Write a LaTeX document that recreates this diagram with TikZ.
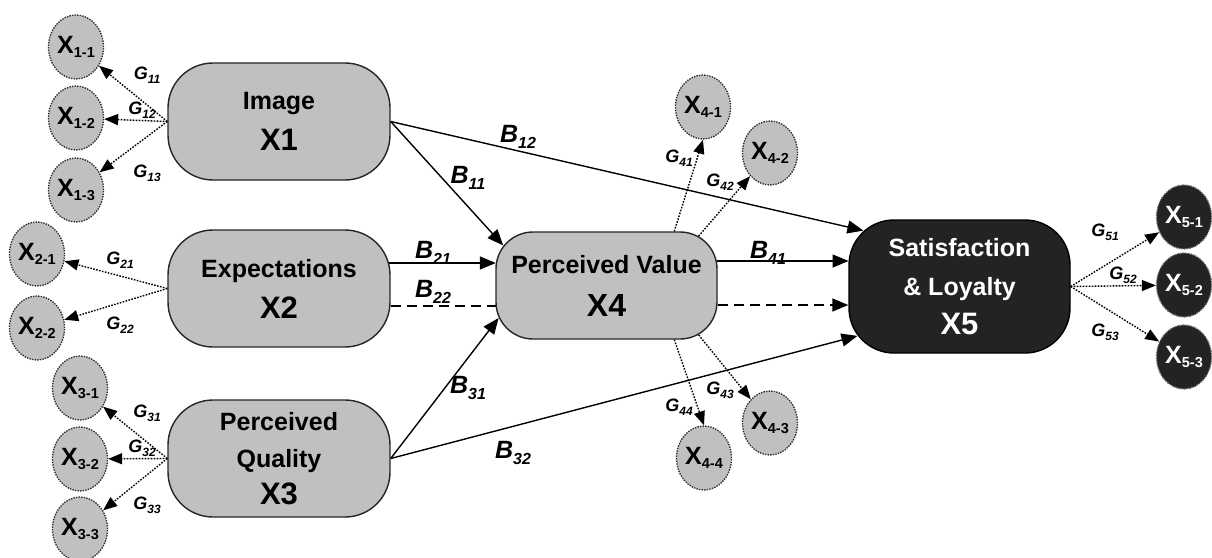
\documentclass[tikz,border=0pt]{standalone}
\usepackage{fontspec}
\setmainfont{Liberation Sans}
\usetikzlibrary{arrows.meta,shapes.geometric}
\definecolor{boxgray}{RGB}{192,192,192}
\definecolor{darkfill}{RGB}{35,35,35}
\newcommand{\indx}[1]{X\raisebox{-4pt}{\fontsize{14.5}{14.5}\selectfont #1}}
\newcommand{\glab}[1]{\textit{G}\raisebox{-4pt}{\fontsize{12}{12}\selectfont\itshape #1}}
\newcommand{\blab}[1]{\textit{B}\raisebox{-5.5pt}{\fontsize{16}{16}\selectfont\itshape #1}}
\begin{document}
\begin{tikzpicture}[x=1pt,y=-1pt,
  box/.style={draw=black!85, line width=1.4pt, fill=boxgray, rounded corners=45pt,
    minimum width=222pt, minimum height=117pt, align=center, inner sep=0pt,
    font=\fontsize{25}{41}\selectfont\bfseries},
  indicator/.style={ellipse, draw=black!85, dash pattern=on 1.4pt off 1.2pt, line width=1.3pt, fill=boxgray,
    minimum width=55pt, minimum height=64pt, inner sep=0pt,
    font=\fontsize{25}{25}\selectfont\bfseries},
  darkind/.style={indicator, fill=darkfill, draw=black!60, text=white},
  ld/.style={dash pattern=on 1.6pt off 1.4pt, line width=1.4pt, -{Triangle[length=14pt,width=11pt]}},
  mainarrow/.style={line width=1.4pt, -{Triangle[length=16pt,width=13pt]}},
  dashline/.style={line width=1.4pt, dash pattern=on 10pt off 6pt},
  glabel/.style={inner sep=0pt, font=\fontsize{18}{18}\selectfont\bfseries},
  blabel/.style={inner sep=0pt, font=\fontsize{25}{25}\selectfont\bfseries}
]
\useasboundingbox (0,0) rectangle (1212,557);

% main constructs
\node[box] (X1) at (279,121.5) {Image\\{\fontsize{31}{41}\selectfont X1}};
\node[box] (X2) at (279,288.5) {Expectations\\{\fontsize{31}{41}\selectfont X2}};
\node[box, font=\fontsize{25}{37}\selectfont\bfseries] (X3) at (279,458.5) {Perceived\\Quality\\{\fontsize{31}{37}\selectfont X3}};
\node[box, rounded corners=37pt, minimum width=221pt, minimum height=107pt,
  font=\fontsize{25}{43}\selectfont\bfseries] (X4) at (606.5,285.5) {Perceived Value\\{\fontsize{32}{43}\selectfont X4}};
\node[box, fill=darkfill, draw=black, text=white, minimum width=221pt, minimum height=133pt,
  font=\fontsize{25}{39}\selectfont\bfseries] (X5) at (959.5,286.5) {Satisfaction\\\&~Loyalty\\{\fontsize{31}{39}\selectfont X5}};

% indicators
\node[indicator] (X11) at (76,47) {\indx{1-1}};
\node[indicator] (X12) at (76,118) {\indx{1-2}};
\node[indicator] (X13) at (76,190) {\indx{1-3}};
\node[indicator] (X21) at (37,254) {\indx{2-1}};
\node[indicator] (X22) at (37,328) {\indx{2-2}};
\node[indicator] (X31) at (80,388) {\indx{3-1}};
\node[indicator] (X32) at (80,459) {\indx{3-2}};
\node[indicator] (X33) at (80,529) {\indx{3-3}};
\node[indicator] (X41) at (703,107) {\indx{4-1}};
\node[indicator] (X42) at (770,153) {\indx{4-2}};
\node[indicator] (X43) at (770,423) {\indx{4-3}};
\node[indicator] (X44) at (704,458) {\indx{4-4}};
\node[darkind] (X51) at (1184,217) {\indx{5-1}};
\node[darkind] (X52) at (1184,285) {\indx{5-2}};
\node[darkind] (X53) at (1184,357) {\indx{5-3}};

% anchor points on rounded borders
\coordinate (t11) at ([shift={(7.9,14.1)}]X4.north west);
\coordinate (t31) at ([shift={(3.3,-21.7)}]X4.south west);
\coordinate (t12) at ([shift={(15.1,11.3)}]X5.north west);
\coordinate (t32) at ([shift={(9.2,-17.8)}]X5.south west);
\coordinate (s21) at ([shift={(-1.6,-25.5)}]X2.east);
\coordinate (e21) at ([shift={(0.5,-22.5)}]X4.west);
\coordinate (s22) at ([shift={(-0.2,17.5)}]X2.east);
\coordinate (e22) at ([shift={(0.2,20.5)}]X4.west);
\coordinate (s41) at ([shift={(-0.9,-24.5)}]X4.east);
\coordinate (e41) at ([shift={(0.2,-25.5)}]X5.west);
\coordinate (s42) at ([shift={(-0.1,19.5)}]X4.east);
\coordinate (e42) at ([shift={(0,18.5)}]X5.west);
\coordinate (u1) at ([shift={(179,0)}]X4.north west);
\coordinate (u2) at ([shift={(-19,4.7)}]X4.north east);
\coordinate (d3) at ([shift={(-19,-4.7)}]X4.south east);
\coordinate (d4) at ([shift={(179,0)}]X4.south west);

% structural paths
\draw[mainarrow] (X1.east) -- (t11);
\draw[mainarrow] (X1.east) -- (t12);
\draw[mainarrow] (s21) -- (e21);
\draw[dashline] (s22) -- (e22);
\draw[mainarrow] (X3.east) -- (t31);
\draw[mainarrow] (X3.east) -- (t32);
\draw[mainarrow] (s41) -- (e41);
\draw[dashline, -{Triangle[length=16pt,width=13pt]}] (s42) -- (e42);

% loadings
\draw[ld] (X1.west) -- (X11);
\draw[ld] (X1.west) -- (X12);
\draw[ld] (X1.west) -- (X13);
\draw[ld] (X2.west) -- (X21);
\draw[ld] (X2.west) -- (X22);
\draw[ld] (X3.west) -- (X31);
\draw[ld] (X3.west) -- (X32);
\draw[ld] (X3.west) -- (X33);
\draw[ld] (u1) -- (X41.south);
\draw[ld] (u2) -- (X42);
\draw[ld] (d3) -- (X43);
\draw[ld] (d4) -- (X44.north);
\draw[ld] (X5.east) -- (X51);
\draw[ld] (X5.east) -- (X52);
\draw[ld] (X5.east) -- (X53);

% B labels
\node[blabel] (lb12) at (518,137) {\blab{12}};
\node[blabel] (lb11) at (468,178) {\blab{11}};
\node[blabel] (lb21) at (433,253) {\blab{21}};
\node[blabel] (lb22) at (433,292) {\blab{22}};
\node[blabel] (lb31) at (468,388) {\blab{31}};
\node[blabel] (lb32) at (513,453) {\blab{32}};
\node[blabel] (lb41) at (768,253) {\blab{41}};

% G labels
\node[glabel] (g11) at (147,75) {\glab{11}};
\node[glabel] (g12) at (142,110) {\glab{12}};
\node[glabel] (g13) at (147,173) {\glab{13}};
\node[glabel] (g21) at (120,260) {\glab{21}};
\node[glabel] (g22) at (120,325) {\glab{22}};
\node[glabel] (g31) at (147,413) {\glab{31}};
\node[glabel] (g32) at (142,448) {\glab{32}};
\node[glabel] (g33) at (147,505) {\glab{33}};
\node[glabel] (g41) at (679,158) {\glab{41}};
\node[glabel] (g42) at (720,182) {\glab{42}};
\node[glabel] (g43) at (720,390) {\glab{43}};
\node[glabel] (g44) at (679,407) {\glab{44}};
\node[glabel] (g51) at (1105,232) {\glab{51}};
\node[glabel] (g52) at (1123,275) {\glab{52}};
\node[glabel] (g53) at (1105,332) {\glab{53}};
\end{tikzpicture}
\end{document}
